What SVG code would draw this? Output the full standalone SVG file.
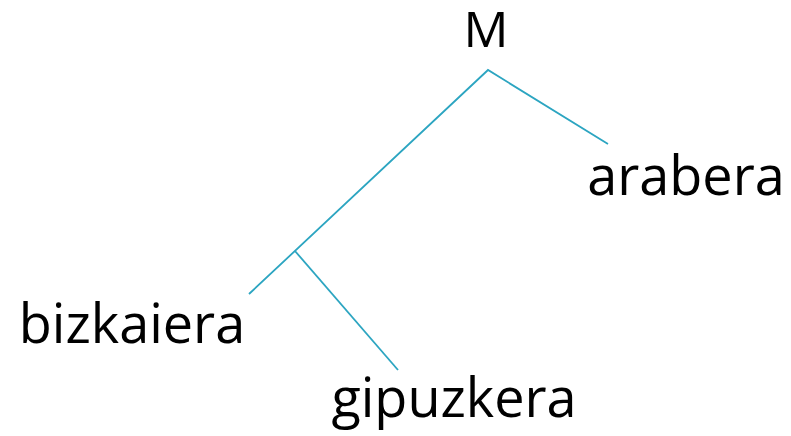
<svg xmlns="http://www.w3.org/2000/svg" width="791" height="436" viewBox="0 0 791 436">
<style>
.lbl{font-family:"Open Sans","DejaVu Sans",sans-serif;font-size:54px;fill:#000;text-anchor:middle}
.edge{stroke:#2ca5c1;stroke-width:1.8;fill:none}
</style>
<rect width="791" height="436" fill="#fff"/>
<g id="connectors">
<polyline class="edge" points="249,294 488,70 608,144"/>
<line class="edge" x1="295" y1="251" x2="398" y2="370"/>
</g>
<g id="node-M"><text class="lbl" x="486" y="47" style="font-size:50px">M</text></g>
<g id="node-arabera"><text class="lbl" x="686" y="195">arabera</text></g>
<g id="node-bizkaiera"><text class="lbl" x="132" y="343">bizkaiera</text></g>
<g id="node-gipuzkera"><text class="lbl" x="454" y="417">gipuzkera</text></g>
</svg>
